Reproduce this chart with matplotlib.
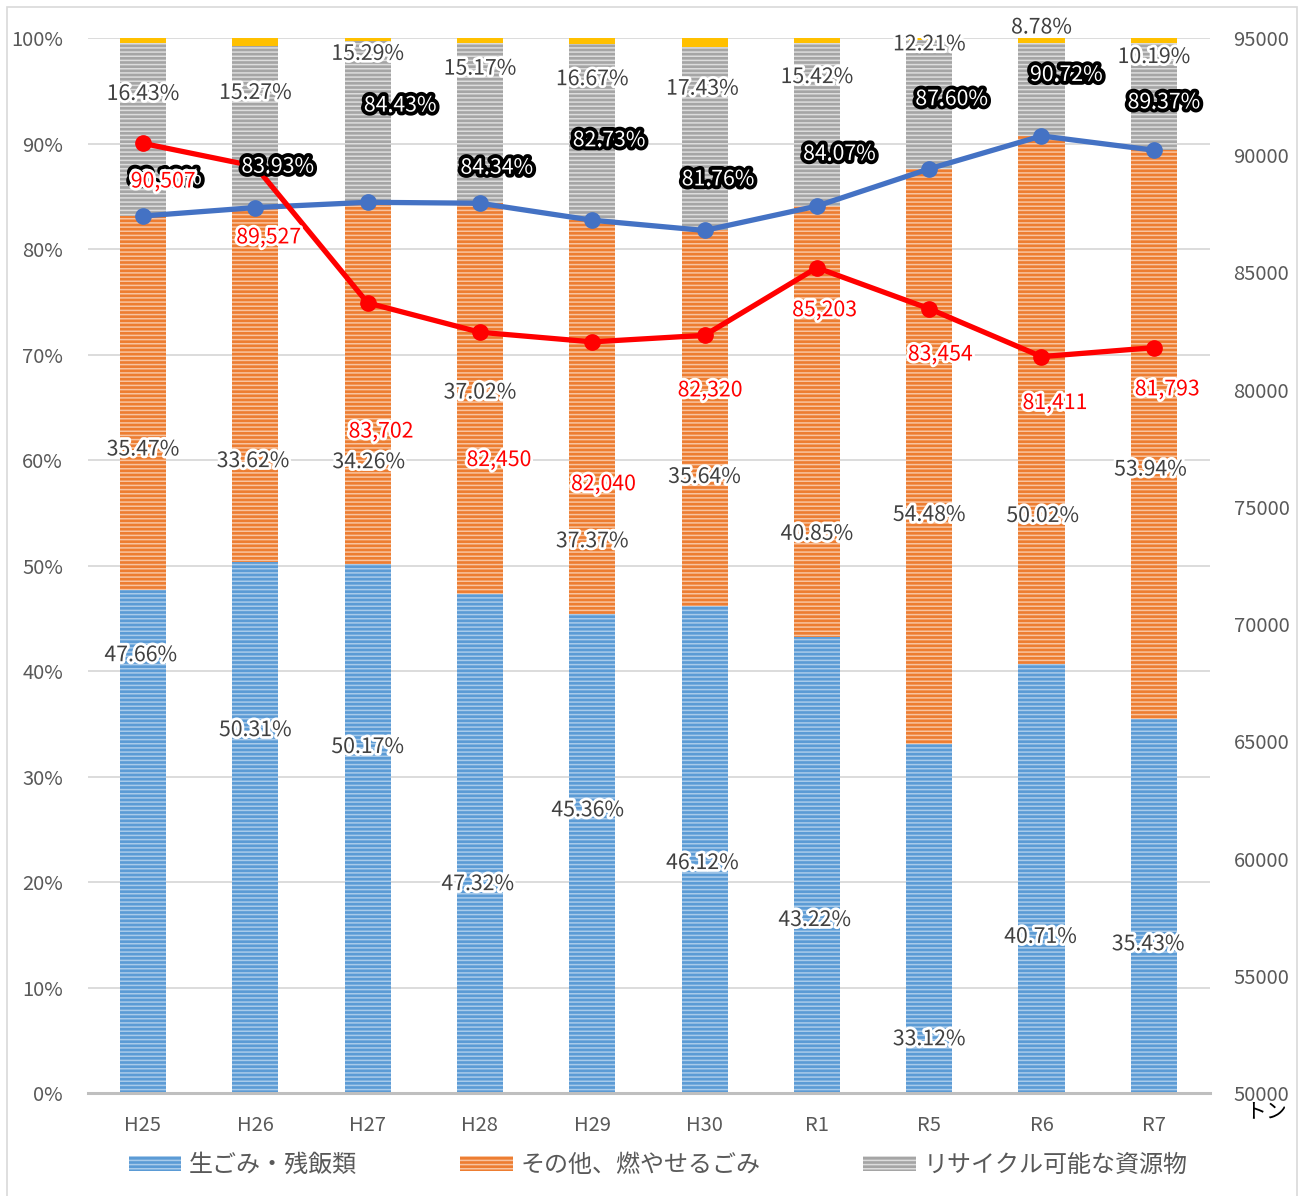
import matplotlib.pyplot as plt
import matplotlib.patheffects as pe
from matplotlib.patches import Rectangle
import numpy as np

plt.rcParams['font.family'] = ['Noto Sans CJK JP', 'DejaVu Sans']
plt.rcParams['hatch.linewidth'] = 1.1

# data
years = ['H25', 'H26', 'H27', 'H28', 'H29', 'H30', 'R1', 'R5', 'R6', 'R7']
food = [47.66, 50.31, 50.17, 47.32, 45.36, 46.12, 43.22, 33.12, 40.71, 35.43]
burnable = [35.47, 33.62, 34.26, 37.02, 37.37, 35.64, 40.85, 54.48, 50.02, 53.94]
recycle = [16.43, 15.27, 15.29, 15.17, 16.67, 17.43, 15.42, 12.21, 8.78, 10.19]
combined = [83.13, 83.93, 84.43, 84.34, 82.73, 81.76, 84.07, 87.60, 90.72, 89.37]
tons = [90507, 89527, 83702, 82450, 82040, 82320, 85203, 83454, 81411, 81793]

# label placements (x offset from bar, y in % units) as set by hand in the original
food_lab = [(-0.02, 41.5), (0, 34.4), (0, 32.8), (-0.02, 19.8), (-0.04, 26.8),
            (-0.02, 21.8), (-0.02, 16.4), (0, 5.1), (-0.01, 14.8), (-0.05, 14.1)]
burn_lab = [(0, 61.0), (-0.02, 59.9), (0.01, 59.8), (0, 66.4), (0, 52.3),
            (0, 58.4), (0, 53.0), (0, 54.8), (0.01, 54.7), (-0.03, 59.1)]
recy_lab = [(0, 94.7), (0, 94.8), (0, 98.5), (0, 97.1), (0, 96.1),
            (-0.02, 95.2), (0, 96.3), (0, 99.4), (0, 101.0), (0, 98.2)]
comb_lab = [(0.2, 86.7), (0.2, 87.8), (0.29, 93.6), (0.15, 87.7), (0.15, 90.3),
            (0.12, 86.6), (0.2, 89.0), (0.2, 94.2), (0.22, 96.5), (0.09, 93.9)]
ton_lab = [(0.18, 86.4), (0.12, 81.1), (0.12, 62.7), (0.17, 60.0), (0.1, 57.7),
           (0.05, 66.6), (0.07, 74.2), (0.1, 70.0), (0.12, 65.4), (0.12, 66.7)]

x = np.arange(len(years))
other = [100 - a - b - c for a, b, c in zip(food, burnable, recycle)]
bottom2 = [a + b for a, b in zip(food, burnable)]
bottom3 = [a + b + c for a, b, c in zip(food, burnable, recycle)]

fig = plt.figure(figsize=(13.03, 11.96), dpi=100)
ax = fig.add_axes([0.0675, 0.0861, 0.8611, 0.8821])

w = 0.41
ax.bar(x, food, w, color='#5B9BD5', edgecolor='#A9CBEA', lw=0, hatch='----',
       label='生ごみ・残飯類', zorder=2)
ax.bar(x, burnable, w, bottom=food, color='#ED7D31', edgecolor='#F8C4A0', lw=0,
       hatch='----', label='その他、燃やせるごみ', zorder=2)
ax.bar(x, recycle, w, bottom=bottom2, color='#A5A5A5', edgecolor='#DCDCDC', lw=0,
       hatch='----', label='リサイクル可能な資源物', zorder=2)
ax.bar(x, other, w, bottom=bottom3, color='#FFC000', lw=0, zorder=2)

ax.plot(x, combined, color='#4472C4', lw=3.8, marker='o', ms=11, zorder=4)

ax.set_xlim(-0.49, 9.5)
ax.set_ylim(0, 100)
ax.set_yticks(range(0, 101, 10))
ax.set_yticklabels([f'{v}%' for v in range(0, 101, 10)])
ax.grid(axis='y', color='#D9D9D9', lw=1.3, zorder=0)
ax.set_axisbelow(True)
for s in ['top', 'right', 'left']:
    ax.spines[s].set_visible(False)
ax.spines['bottom'].set_color('#BFBFBF')
ax.spines['bottom'].set_linewidth(2.2)
ax.set_xticks(x)
ax.set_xticklabels(years)
ax.tick_params(axis='both', length=0, labelsize=14.5, labelcolor='#595959')
ax.tick_params(axis='y', pad=18)
ax.tick_params(axis='x', pad=16)

ax2 = ax.twinx()
ax2.plot(x, tons, color='#FF0000', lw=3.8, marker='o', ms=11, zorder=4)
ax2.set_ylim(50000, 95000)
ax2.set_yticks(range(50000, 95001, 5000))
ax2.tick_params(axis='y', length=0, labelsize=14.5, labelcolor='#595959', pad=17)
for s in ax2.spines.values():
    s.set_visible(False)

white_glow = [pe.withStroke(linewidth=4, foreground='white')]
black_glow = [pe.withStroke(linewidth=5.5, foreground='black')]
tr = ax.transData
fs = 15.3

for vals, pos in [(food, food_lab), (burnable, burn_lab), (recycle, recy_lab)]:
    for i, v in enumerate(vals):
        ax2.text(i + pos[i][0], pos[i][1], f'{v:.2f}%', transform=tr, ha='center',
                 va='center', fontsize=fs, color='#404040', path_effects=white_glow,
                 zorder=6)
for i, v in enumerate(combined):
    ax2.text(i + comb_lab[i][0], comb_lab[i][1], f'{v:.2f}%', transform=tr,
             ha='center', va='center', fontsize=fs, color='white',
             path_effects=black_glow, zorder=6)
for i, v in enumerate(tons):
    ax2.text(i + ton_lab[i][0], ton_lab[i][1], f'{v:,}', transform=tr,
             ha='center', va='center', fontsize=fs, color='#FF0000',
             path_effects=white_glow, zorder=7)

fig.text(1266 / 1303, 1 - 1111 / 1196, 'トン', ha='center', va='center',
         fontsize=15, color='black')

fig.legend(loc='center', bbox_to_anchor=(658 / 1303, 1 - 1165 / 1196), ncol=3,
           frameon=False, fontsize=17.3, labelcolor='#595959', handlelength=2.2,
           handleheight=0.6, handletextpad=0.3, columnspacing=4.3)

fig.patches.append(Rectangle((7 / 1303, -0.01), 1290 / 1303, 1.01 - 7 / 1196,
                             transform=fig.transFigure, fill=False,
                             edgecolor='#D9D9D9', lw=1.2))

fig.savefig('out.png', dpi=100)
